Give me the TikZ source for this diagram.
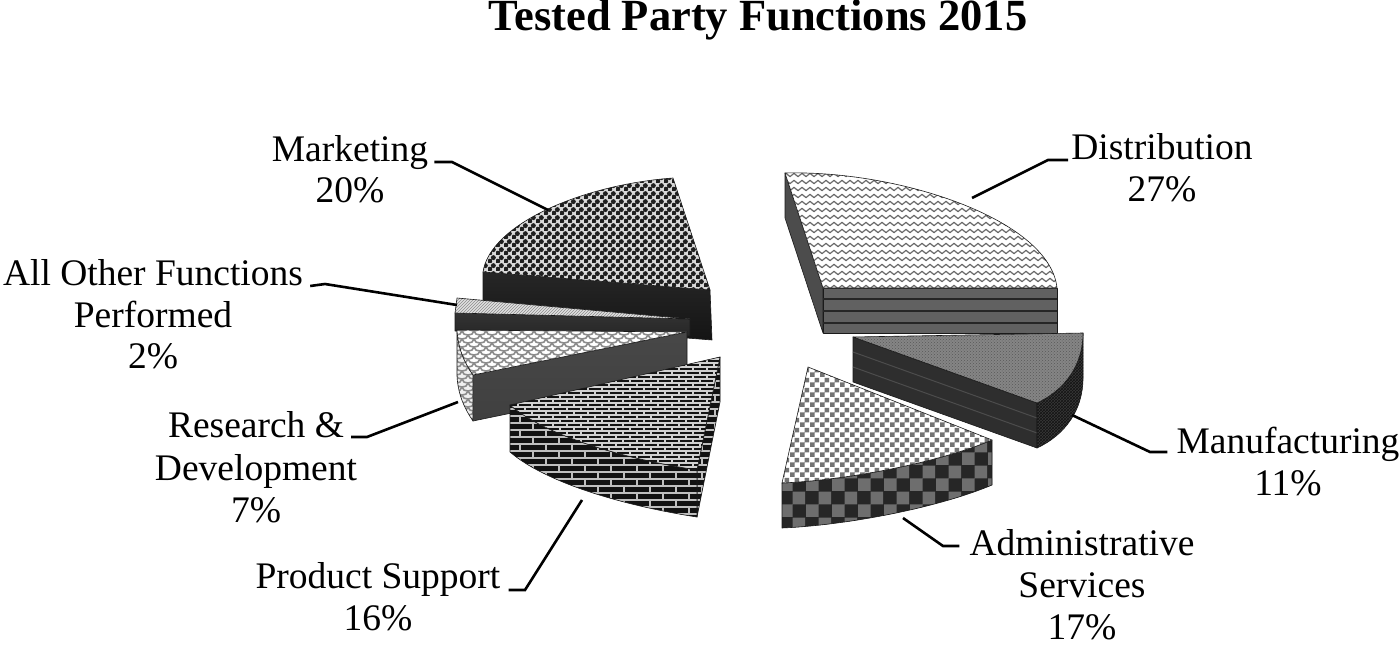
\documentclass[tikz,border=0pt]{standalone}
\usepackage{fontspec}
\setmainfont{Liberation Serif}
\usetikzlibrary{patterns}

% ---------- patterns ----------
\pgfdeclarepatternformonly{wavy}{\pgfpoint{-1pt}{-1pt}}{\pgfpoint{9pt}{8pt}}{\pgfpoint{8pt}{7pt}}{%
  \pgfsetlinewidth{1.2pt}%
  \pgfpathmoveto{\pgfpoint{0pt}{3pt}}%
  \pgfpathcurveto{\pgfpoint{1.3pt}{5.2pt}}{\pgfpoint{2.7pt}{5.2pt}}{\pgfpoint{4pt}{3pt}}%
  \pgfpathcurveto{\pgfpoint{5.3pt}{0.8pt}}{\pgfpoint{6.7pt}{0.8pt}}{\pgfpoint{8pt}{3pt}}%
  \pgfusepath{stroke}}
\pgfdeclarepatternformonly{checkfine}{\pgfpointorigin}{\pgfpoint{10pt}{10pt}}{\pgfpoint{10pt}{10pt}}{%
  \pgfpathrectangle{\pgfpointorigin}{\pgfpoint{5pt}{5pt}}%
  \pgfpathrectangle{\pgfpoint{5pt}{5pt}}{\pgfpoint{5pt}{5pt}}%
  \pgfusepath{fill}}
\pgfdeclarepatternformonly{checkbig}{\pgfpointorigin}{\pgfpoint{26pt}{26pt}}{\pgfpoint{26pt}{26pt}}{%
  \pgfpathrectangle{\pgfpointorigin}{\pgfpoint{13pt}{13pt}}%
  \pgfpathrectangle{\pgfpoint{13pt}{13pt}}{\pgfpoint{13pt}{13pt}}%
  \pgfusepath{fill}}
\pgfdeclarepatternformonly{mortar}{\pgfpoint{-1pt}{-1pt}}{\pgfpoint{15pt}{9pt}}{\pgfpoint{14pt}{8pt}}{%
  \pgfsetlinewidth{1.3pt}%
  \pgfpathmoveto{\pgfpoint{0pt}{0pt}}\pgfpathlineto{\pgfpoint{14pt}{0pt}}%
  \pgfpathmoveto{\pgfpoint{0pt}{4pt}}\pgfpathlineto{\pgfpoint{14pt}{4pt}}%
  \pgfpathmoveto{\pgfpoint{0pt}{0pt}}\pgfpathlineto{\pgfpoint{0pt}{4pt}}%
  \pgfpathmoveto{\pgfpoint{7pt}{4pt}}\pgfpathlineto{\pgfpoint{7pt}{8pt}}%
  \pgfusepath{stroke}}
\pgfdeclarepatternformonly{bigmortar}{\pgfpoint{-1pt}{-1pt}}{\pgfpoint{27pt}{15pt}}{\pgfpoint{26pt}{14pt}}{%
  \pgfsetlinewidth{1.6pt}%
  \pgfpathmoveto{\pgfpoint{0pt}{0pt}}\pgfpathlineto{\pgfpoint{26pt}{0pt}}%
  \pgfpathmoveto{\pgfpoint{0pt}{7pt}}\pgfpathlineto{\pgfpoint{26pt}{7pt}}%
  \pgfpathmoveto{\pgfpoint{0pt}{0pt}}\pgfpathlineto{\pgfpoint{0pt}{7pt}}%
  \pgfpathmoveto{\pgfpoint{13pt}{7pt}}\pgfpathlineto{\pgfpoint{13pt}{14pt}}%
  \pgfusepath{stroke}}
\pgfdeclarepatternformonly{scales}{\pgfpoint{-1pt}{-1pt}}{\pgfpoint{13pt}{9pt}}{\pgfpoint{12pt}{8pt}}{%
  \pgfsetlinewidth{1.6pt}%
  \pgfpathmoveto{\pgfpoint{0pt}{0pt}}%
  \pgfpathcurveto{\pgfpoint{3pt}{0pt}}{\pgfpoint{5.5pt}{1pt}}{\pgfpoint{6pt}{4pt}}%
  \pgfpathmoveto{\pgfpoint{12pt}{0pt}}%
  \pgfpathcurveto{\pgfpoint{9pt}{0pt}}{\pgfpoint{6.5pt}{1pt}}{\pgfpoint{6pt}{4pt}}%
  \pgfpathmoveto{\pgfpoint{0pt}{8pt}}%
  \pgfpathcurveto{\pgfpoint{0.5pt}{5pt}}{\pgfpoint{3pt}{4pt}}{\pgfpoint{6pt}{4pt}}%
  \pgfpathcurveto{\pgfpoint{9pt}{4pt}}{\pgfpoint{11.5pt}{5pt}}{\pgfpoint{12pt}{8pt}}%
  \pgfusepath{stroke}}
\pgfdeclarepatternformonly{balls}{\pgfpointorigin}{\pgfpoint{8pt}{8pt}}{\pgfpoint{8pt}{8pt}}{%
  \pgfpathcircle{\pgfpoint{2pt}{2pt}}{2.75pt}%
  \pgfpathcircle{\pgfpoint{6pt}{6pt}}{2.75pt}%
  \pgfusepath{fill}}

\definecolor{edge}{HTML}{1A1A1A}

\begin{document}
\begin{tikzpicture}[x=1pt,y=-1pt,
  face/.style={draw=edge, line width=0.6pt, line join=round},
  lbl/.style={font=\fontsize{37.5}{42}\selectfont, inner sep=0pt, anchor=base},
  leader/.style={draw=black, line width=2.6pt, line join=miter},
  stripe/.style={draw=#1, line width=2.2pt}]
\useasboundingbox (0,0) rectangle (1400,647);

% ---------- title ----------
\node[font=\fontsize{44.5}{50}\selectfont\bfseries, inner sep=0pt, anchor=base] (title) at (758,31) {Tested Party Functions 2015};

% ---------- Marketing ----------
\shade[face, top color=black!85, middle color=black!65, bottom color=black!92]
  (483,272) -- (710,290) -- (712,340) -- (483,322) -- cycle;
\path[face, preaction={fill=white!85!black}, pattern=balls, pattern color=black!88]
  (483,272) .. controls (490,225) and (580,185) .. (673,178) -- (710,290) -- cycle;

% ---------- Distribution ----------
\path[face, fill=black!70] (785,173) -- (823,288) -- (823,333) -- (785,218) -- cycle;
\path[face, fill=black!62] (823,288) -- (1057,288) -- (1057,333) -- (823,333) -- cycle;
\draw[stripe=black!85] (823,299) -- (1057,299);
\draw[stripe=black!85] (823,311) -- (1057,311);
\draw[stripe=black!85] (823,323) -- (1057,323);
\path[face, preaction={fill=white}, pattern=wavy, pattern color=black!58]
  (785,173) .. controls (900,170) and (1050,220) .. (1057,288) -- (823,288) -- cycle;

% ---------- All Other Functions Performed ----------
\shade[face, top color=black!80, middle color=black!55, bottom color=black!85]
  (455,313) -- (690,319) -- (690,336) -- (455,331) -- cycle;
\path[face, preaction={fill=black!12}, pattern=north east lines, pattern color=black!45]
  (457,298) -- (690,319) -- (455,313) -- cycle;

% ---------- Research & Development ----------
\shade[face, top color=black!72, middle color=black!50, bottom color=black!75]
  (473,375) -- (687,332) -- (687,377) -- (473,421) -- cycle;
\path[face, preaction={fill=black!6}, pattern=scales, pattern color=black!45]
  (457,330) .. controls (458,348) and (464,362) .. (473,375) -- (473,421)
  .. controls (464,408) and (458,394) .. (457,376) -- cycle;
\path[face, preaction={fill=white}, pattern=scales, pattern color=black!45]
  (457,330) -- (687,332) -- (473,375) .. controls (464,362) and (458,348) .. (457,330) -- cycle;

% ---------- Manufacturing ----------
\path[face, fill=black!82] (853,337) -- (1037,403) -- (1037,448) -- (853,382) -- cycle;
\draw[black!70, line width=1pt] (853,352) -- (1037,418);
\draw[black!70, line width=1pt] (853,367) -- (1037,433);
\path[face, preaction={fill=black!78}, pattern=crosshatch, pattern color=black!92]
  (1083,333) .. controls (1083,365) and (1065,390) .. (1037,403) -- (1037,448)
  .. controls (1065,435) and (1083,410) .. (1083,378) -- cycle;
\path[face, preaction={fill=black!48}, pattern=crosshatch dots, pattern color=black!65]
  (853,337) -- (1083,333) .. controls (1083,365) and (1065,390) .. (1037,403) -- cycle;

% ---------- Administrative Services ----------
\path[face, preaction={fill=black!85}, pattern=checkbig, pattern color=black!57]
  (992,440) .. controls (940,462) and (850,480) .. (782,483) -- (782,528)
  .. controls (850,525) and (940,507) .. (992,485) -- cycle;
\path[face, preaction={fill=white}, pattern=checkfine, pattern color=black!55]
  (808,367) -- (992,440) .. controls (940,462) and (850,480) .. (782,483) -- cycle;

% ---------- Product Support ----------
\path[face, preaction={fill=black!93}, pattern=bigmortar, pattern color=black!25]
  (720,357) -- (697,470) -- (697,517) -- (720,402) -- cycle;
\path[face, preaction={fill=black!93}, pattern=bigmortar, pattern color=black!25]
  (697,470) .. controls (620,458) and (545,435) .. (510,405) -- (510,452)
  .. controls (545,482) and (620,505) .. (697,517) -- cycle;
\path[face, preaction={fill=black!92}, pattern=mortar, pattern color=black!18]
  (510,405) -- (720,357) -- (697,470) .. controls (620,458) and (545,435) .. (510,405) -- cycle;

% ---------- labels ----------
\node[lbl] (mk1) at (350,162) {Marketing};
\node[lbl] (mk2) at (350,203) {20\%};
\node[lbl] (ao1) at (153,285) {All Other Functions};
\node[lbl] (ao2) at (153,327) {Performed};
\node[lbl] (ao3) at (153,368) {2\%};
\node[lbl] (rd1) at (256,437) {Research \&};
\node[lbl] (rd2) at (256,480) {Development};
\node[lbl] (rd3) at (256,522) {7\%};
\node[lbl] (ps1) at (378,588) {Product Support};
\node[lbl] (ps2) at (378,630) {16\%};
\node[lbl] (di1) at (1162,160) {Distribution};
\node[lbl] (di2) at (1162,202) {27\%};
\node[lbl] (mf1) at (1288,453) {Manufacturing};
\node[lbl] (mf2) at (1288,495) {11\%};
\node[lbl] (ad1) at (1082,555) {Administrative};
\node[lbl] (ad2) at (1082,597) {Services};
\node[lbl] (ad3) at (1082,639) {17\%};

% ---------- leader lines ----------
\coordinate (mkA) at (452,162);  \coordinate (mkB) at (548,210);
\coordinate (aoA) at (325,284);  \coordinate (aoB) at (457,305);
\coordinate (rdA) at (367,437);  \coordinate (rdB) at (458,402);
\coordinate (psA) at (525,590);  \coordinate (psB) at (582,500);
\coordinate (diA) at (1048,160); \coordinate (diB) at (972,198);
\coordinate (mfA) at (1150,452); \coordinate (mfB) at (1072,415);
\coordinate (adA) at (943,546);  \coordinate (adB) at (903,518);

\draw[leader] ([xshift=6pt,yshift=0pt]mk1.base east) -- (mkA) -- (mkB);
\draw[leader] ([xshift=7pt,yshift=-1pt]ao1.base east) -- (aoA) -- (aoB);
\draw[leader] ([xshift=7pt]rd1.base east) -- (rdA) -- (rdB);
\draw[leader] ([xshift=8pt,yshift=-2pt]ps1.base east) -- (psA) -- (psB);
\draw[leader] ([xshift=-3pt]di1.base west) -- (diA) -- (diB);
\draw[leader] ([xshift=-9pt,yshift=1pt]mf1.base west) -- (mfA) -- (mfB);
\draw[leader] ([xshift=-10pt,yshift=9pt]ad1.base west) -- (adA) -- (adB);
\end{tikzpicture}
\end{document}
